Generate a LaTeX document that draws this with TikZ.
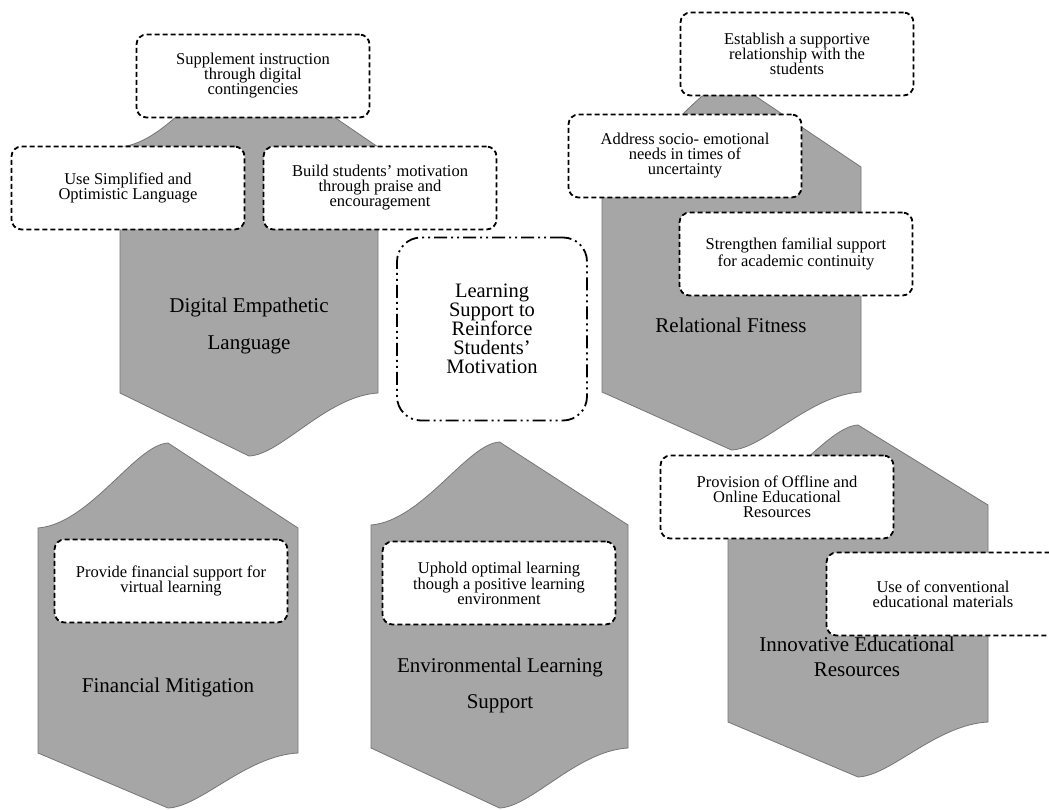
\documentclass[tikz,border=0pt]{standalone}
\usepackage{fontspec}
\setmainfont{Liberation Serif}
\usepackage{xcolor}

\definecolor{hexfill}{RGB}{166,166,166}
\definecolor{hexline}{RGB}{118,118,118}

% grey hexagon with wavy top-left and bottom-right edges
% #1 left x, #2 right x, #3 top corner y, #4 peak y, #5 bottom corner y, #6 tip y
\newcommand{\wavehex}[6]{%
    \pgfmathsetmacro\hxc{(#1+#2)/2}%
    \pgfmathsetmacro\hw{(#2-#1)/2}%
    \pgfmathsetmacro\dtop{#3-#4}%
    \pgfmathsetmacro\dbot{#6-#5}%
    \draw[hexshape] (#1,#3)
        .. controls ({#1+0.4*\hw},{#3-0.05*\dtop}) and ({\hxc-0.25*\hw},{#4+0.02*\dtop}) .. (\hxc,#4)
        -- (#2,#3) -- (#2,#5)
        .. controls ({#2-0.4*\hw},{#5+0.05*\dbot}) and ({\hxc+0.25*\hw},{#6-0.02*\dbot}) .. (\hxc,#6)
        -- (#1,#5) -- cycle;
}

\tikzset{
    hexshape/.style={fill=hexfill, draw=hexline, line width=0.8pt},
    hexlabel/.style={align=center, font=\fontsize{21}{25}\selectfont},
    tipbox/.style={draw, fill=white, line width=1.8pt, dash pattern=on 5pt off 3pt,
        rounded corners=10pt, minimum width=233pt, minimum height=83pt,
        align=center, inner sep=2pt, font=\fontsize{16.5}{15}\selectfont},
    corebox/.style={draw, fill=white, line width=1.8pt,
        dash pattern=on 13pt off 4pt on 2pt off 4pt on 2pt off 4pt,
        rounded corners=24pt, minimum width=190pt, minimum height=183pt,
        align=center, font=\fontsize{20.5}{19}\selectfont}
}

\begin{document}
\begin{tikzpicture}[x=1pt,y=-1pt]
    % Fix the page size
    \useasboundingbox (0,0) rectangle (1049,810);
    \fill[white] (0,0) rectangle (1049,810);
    \clip (0,0) rectangle (1049,810);

    % Draw the grey shapes
    \wavehex{120}{378}{147}{59}{393}{456}
    \wavehex{602}{861}{167}{80}{392}{450}
    \wavehex{38}{298}{528}{443}{753}{808}
    \wavehex{371}{628}{525}{442}{748}{808}
    \wavehex{728}{988}{505}{425}{722}{777}

    % Add shape titles
    \node[hexlabel] (digital) at (249,326) {Digital Empathetic\\[12pt]Language};
    \node[hexlabel] (relational) at (731,325) {Relational Fitness};
    \node[hexlabel] (financial) at (168,687) {Financial Mitigation};
    \node[hexlabel] (environmental) at (500,685) {Environmental Learning\\[11pt]Support};
    \node[hexlabel] (innovative) at (857,657) {Innovative Educational\\Resources};

    % Add dashed boxes
    \node[tipbox] (supplement) at (253,76) {Supplement instruction\\through digital\\contingencies};
    \node[tipbox] (simplified) at (128,188) {Use Simplified and\\Optimistic Language};
    \node[tipbox] (praise) at (380,188) {Build students’ motivation\\through praise and\\encouragement};
    \node[tipbox] (establish) at (797,54) {Establish a supportive\\relationship with the\\students};
    \node[tipbox] (socio) at (685,156) {Address socio- emotional\\needs in times of\\uncertainty};
    \node[tipbox] (familial) at (796,254) {Strengthen familial support\\for academic continuity};
    \node[tipbox] (provide) at (171,581) {Provide financial support for\\virtual learning};
    \node[tipbox] (uphold) at (499,583) {Uphold optimal learning\\though a positive learning\\environment};
    \node[tipbox] (offline) at (777,497) {Provision of Offline and\\Online Educational\\Resources};
    \node[tipbox] (conventional) at (943,594) {Use of conventional\\educational materials};

    % Add central box
    \node[corebox] (core) at (492,329) {Learning\\Support to\\Reinforce\\Students’\\Motivation};
\end{tikzpicture}
\end{document}
